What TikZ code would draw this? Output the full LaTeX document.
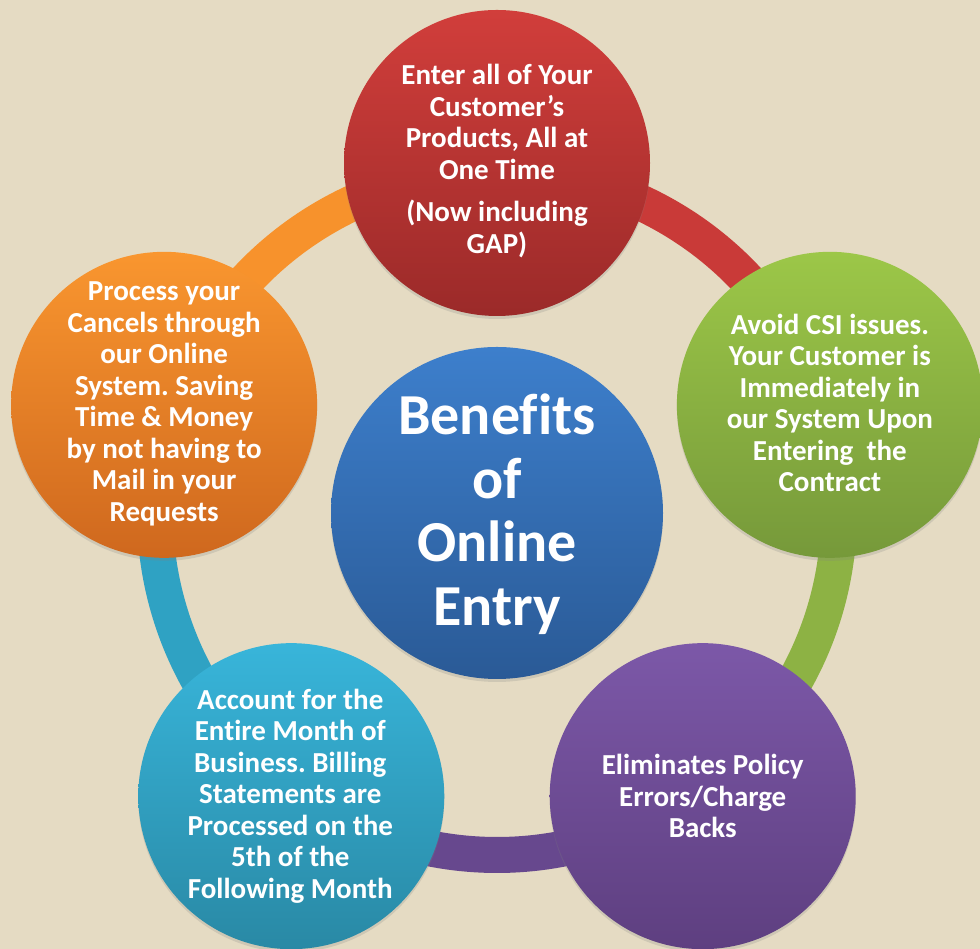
\documentclass[tikz,border=0pt]{standalone}
\usepackage{fontspec}
\setmainfont[Ligatures=NoCommon]{Carlito}
\usetikzlibrary{shadows}
\frenchspacing

\definecolor{paper}{HTML}{E5DBC3}
\definecolor{redtop}{HTML}{D13E3B}
\definecolor{redbot}{HTML}{9B2A29}
\definecolor{redring}{HTML}{C93A38}
\definecolor{greentop}{HTML}{9CC748}
\definecolor{greenbot}{HTML}{76993A}
\definecolor{greenring}{HTML}{8DB244}
\definecolor{purpletop}{HTML}{7C58A8}
\definecolor{purplebot}{HTML}{5E3F80}
\definecolor{purplering}{HTML}{67488E}
\definecolor{cyantop}{HTML}{38B5DA}
\definecolor{cyanbot}{HTML}{2989A5}
\definecolor{cyanring}{HTML}{2FA2C3}
\definecolor{orangetop}{HTML}{F9962F}
\definecolor{orangebot}{HTML}{CF681E}
\definecolor{orangering}{HTML}{F7922C}
\definecolor{bluetop}{HTML}{3D7FCC}
\definecolor{bluebot}{HTML}{2A5A96}

\begin{document}
\begin{tikzpicture}[x=1pt,y=1pt,
  bubble/.style={circle, inner sep=0pt, minimum size=306pt,
    drop shadow={shadow xshift=0pt, shadow yshift=-3pt, opacity=0.22}},
  hubbubble/.style={circle, inner sep=0pt, minimum size=332pt,
    drop shadow={shadow xshift=0pt, shadow yshift=-3pt, opacity=0.22}},
  bubbletext/.style={text=white, align=center,
    font=\bfseries\fontsize{29}{31.5}\selectfont},
  hubtext/.style={text=white, align=center,
    font=\bfseries\fontsize{58}{63.5}\selectfont},
  ringseg/.style={line width=36pt},
]
% background and page size
\fill[paper] (0,0) rectangle (980,949);
\useasboundingbox (0,0) rectangle (980,949);

\coordinate (hub) at (497,436);

% ring segments, each in the colour of the bubble it leaves from
\draw[ringseg, redring]    ([shift={(90:342)}]hub)  arc[start angle=90,   end angle=18,   radius=342];
\draw[ringseg, greenring]  ([shift={(18:342)}]hub)  arc[start angle=18,   end angle=-54,  radius=342];
\draw[ringseg, purplering] ([shift={(-54:342)}]hub) arc[start angle=-54,  end angle=-126, radius=342];
\draw[ringseg, cyanring]   ([shift={(-126:342)}]hub) arc[start angle=-126, end angle=-198, radius=342];
\draw[ringseg, orangering] ([shift={(162:342)}]hub) arc[start angle=162,  end angle=90,   radius=342];

% bubbles
\node[hubbubble, top color=bluetop, bottom color=bluebot] (center) at (hub) {};
\node[bubble, top color=redtop, bottom color=redbot]       (red)    at ([shift={(90:350)}]hub) {};
\node[bubble, top color=greentop, bottom color=greenbot]   (green)  at ([shift={(18:350)}]hub) {};
\node[bubble, top color=purpletop, bottom color=purplebot] (purple) at ([shift={(-54:350)}]hub) {};
\node[bubble, top color=cyantop, bottom color=cyanbot]     (cyan)   at ([shift={(-126:350)}]hub) {};
\node[bubble, top color=orangetop, bottom color=orangebot] (orange) at ([shift={(162:350)}]hub) {};

% texts
\node[hubtext] (centertext) at ([yshift=-1pt]center) {Benefits\\of\\Online\\Entry};
\node[bubbletext] (redtext) at ([yshift=2pt]red)
  {Enter all of Your\\Customer’s\\Products, All at\\One Time\\[11pt](Now including\\GAP)};
\node[bubbletext] (greentext) at ([yshift=2pt]green)
  {Avoid CSI issues.\\Your Customer is\\Immediately in\\our System Upon\\Entering~~the\\Contract};
\node[bubbletext] (purpletext) at (purple)
  {Eliminates Policy\\Errors/Charge\\Backs};
\node[bubbletext] (cyantext) at ([xshift=-1pt]cyan)
  {Account for the\\Entire Month of\\Business. Billing\\Statements are\\Processed on the\\5th of the\\Following Month};
\node[bubbletext] (orangetext) at ([yshift=1pt]orange)
  {Process your\\Cancels through\\our Online\\System. Saving\\Time \& Money\\by not having to\\Mail in your\\Requests};
\end{tikzpicture}
\end{document}
